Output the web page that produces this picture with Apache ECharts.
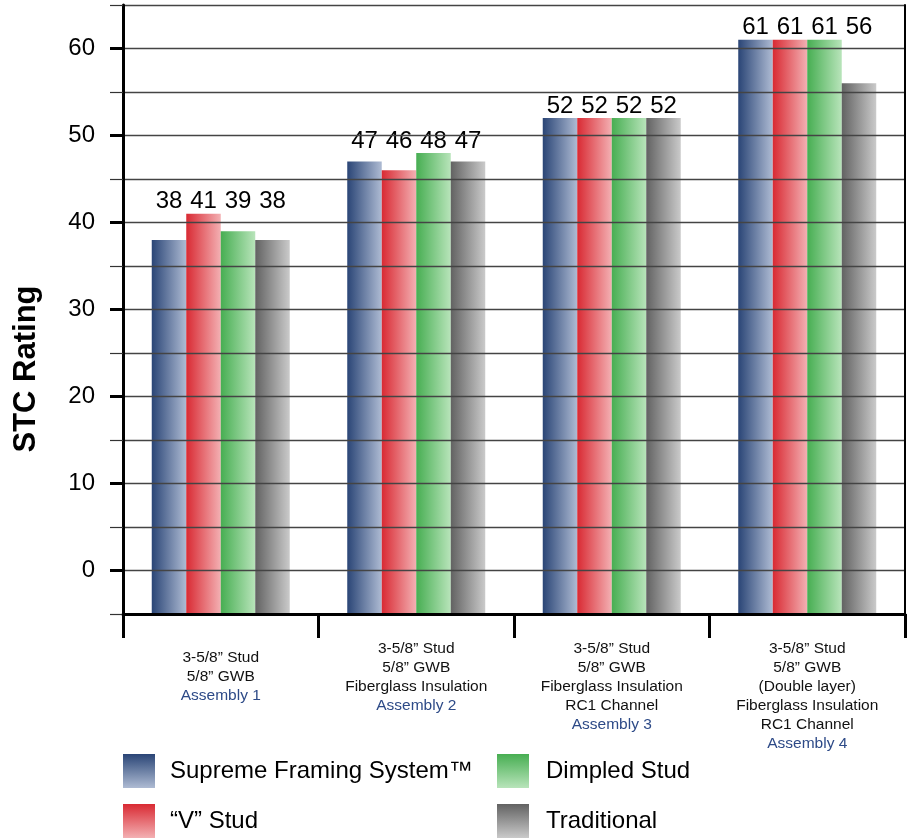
<!DOCTYPE html>
<html>
<head>
<meta charset="utf-8">
<script src="https://cdn.jsdelivr.net/npm/echarts@6/dist/echarts.min.js"></script>
<style>
  html, body { margin: 0; padding: 0; background: #fff; }
  #chart { width: 910px; height: 838px; }
</style>
</head>
<body>
<div id="chart"></div>
<script>
// Assemblies on the category axis, with the wall build-up printed above each name
const categories = ['Assembly 1', 'Assembly 2', 'Assembly 3', 'Assembly 4'];
const assemblyDetails = [
  ['3-5/8” Stud', '5/8” GWB'],
  ['3-5/8” Stud', '5/8” GWB', 'Fiberglass Insulation'],
  ['3-5/8” Stud', '5/8” GWB', 'Fiberglass Insulation', 'RC1 Channel'],
  ['3-5/8” Stud', '5/8” GWB', '(Double layer)', 'Fiberglass Insulation', 'RC1 Channel']
];

// STC ratings per framing system
const seriesNames = ['Supreme Framing System™', '“V” Stud', 'Dimpled Stud', 'Traditional'];
const supremeValues     = [38, 47, 52, 61];
const vStudValues       = [41, 46, 52, 61];
const dimpledValues     = [39, 48, 52, 61];
const traditionalValues = [38, 47, 52, 56];

// Labelled ticks on the STC axis
const yTickLabels = [0, 10, 20, 30, 40, 50, 60];

const FONT = 'Liberation Sans, Arial, Helvetica, sans-serif';

// dark -> light shades for each system
const shades = [
  ['#2a4576', '#aebbd3'],
  ['#d92a33', '#f3b0b3'],
  ['#47ae52', '#b8e4ba'],
  ['#626262', '#cacaca']
];

function hGrad(c) {
  return new echarts.graphic.LinearGradient(0, 0, 1, 0, [
    { offset: 0, color: c[0] }, { offset: 1, color: c[1] }
  ]);
}
function vGrad(c) {
  return new echarts.graphic.LinearGradient(0, 0, 0, 1, [
    { offset: 0, color: c[0] }, { offset: 1, color: c[1] }
  ]);
}

const allValues = [supremeValues, vStudValues, dimpledValues, traditionalValues];
const groupMax = categories.map((_, i) => Math.max(...allValues.map(s => s[i])));

const chart = echarts.init(document.getElementById('chart'));

function buildSeries(pxPerUnit) {
  return allValues.map((vals, si) => ({
    name: seriesNames[si],
    type: 'bar',
    barWidth: 34.5,
    barGap: '0%',
    itemStyle: { color: hGrad(shades[si]) },
    label: {
      show: true,
      position: 'top',
      distance: 0,
      color: '#000',
      fontSize: 24,
      fontFamily: FONT
    },
    // value labels of a group share one baseline above its tallest bar
    data: vals.map((v, i) => ({
      value: v,
      label: { offset: [0, -(groupMax[i] - v) * pxPerUnit] }
    }))
  }));
}

const option = {
  animation: false,
  backgroundColor: '#fff',
  textStyle: { fontFamily: FONT },
  grid: { left: 123, right: 5, top: 5, bottom: 224, containLabel: false },
  graphic: [{
    type: 'text',
    x: 26,
    y: 369,
    rotation: Math.PI / 2,
    style: {
      text: 'STC Rating',
      fontSize: 31,
      fontWeight: 'bold',
      fontFamily: FONT,
      fill: '#000',
      align: 'center',
      verticalAlign: 'middle'
    }
  }],
  legend: [
    {
      left: 123, top: 754, orient: 'vertical',
      itemWidth: 32, itemHeight: 34, itemGap: 16,
      icon: 'rect', selectedMode: false, padding: 0,
      textStyle: { fontSize: 24, color: '#000', fontFamily: FONT, padding: [0, 0, 0, 10] },
      data: [
        { name: seriesNames[0], itemStyle: { color: vGrad(shades[0]) } },
        { name: seriesNames[1], itemStyle: { color: vGrad(shades[1]) } }
      ]
    },
    {
      left: 497, top: 754, orient: 'vertical',
      itemWidth: 32, itemHeight: 34, itemGap: 16,
      icon: 'rect', selectedMode: false, padding: 0,
      textStyle: { fontSize: 24, color: '#000', fontFamily: FONT, padding: [0, 0, 0, 12] },
      data: [
        { name: seriesNames[2], itemStyle: { color: vGrad(shades[2]) } },
        { name: seriesNames[3], itemStyle: { color: vGrad(shades[3]) } }
      ]
    }
  ],
  xAxis: {
    type: 'category',
    data: categories,
    boundaryGap: true,
    z: 10,
    axisLine: { show: true, onZero: false, lineStyle: { color: '#000', width: 3 } },
    axisTick: { show: true, length: 24, lineStyle: { color: '#000', width: 3 } },
    splitLine: { show: false },
    axisLabel: {
      interval: 0,
      margin: 25,
      color: '#000',
      formatter: (value, index) => {
        const lines = assemblyDetails[index].map(l => '{d|' + l + '}');
        lines.push('{a|' + value + '}');
        return (index === 0 ? '{sp| }\n' : '') + lines.join('\n');
      },
      rich: {
        sp: { fontSize: 1, lineHeight: 9 },
        d: { fontSize: 15.5, lineHeight: 19, color: '#111', fontFamily: FONT },
        a: { fontSize: 15.5, lineHeight: 19, color: '#2d4a87', fontFamily: FONT }
      }
    }
  },
  yAxis: [
    {
      type: 'value',
      min: -5, max: 65, interval: 5,
      startValue: -5,
      z: 10,
      axisLine: { show: true, lineStyle: { color: '#000', width: 3 } },
      axisTick: { show: true, length: 13, lineStyle: { color: '#333', width: 1.2 } },
      splitLine: { show: true, lineStyle: { color: '#444', width: 1.3 } },
      axisLabel: {
        customValues: yTickLabels,
        margin: 28,
        fontSize: 24,
        color: '#000',
        fontFamily: FONT
      }
    },
    {
      // heavier ticks on the labelled values
      type: 'value',
      min: -5, max: 65, interval: 5,
      position: 'left',
      z: 11,
      axisLine: { show: false },
      axisTick: { show: true, customValues: yTickLabels, length: 13, lineStyle: { color: '#000', width: 3 } },
      axisLabel: { show: false },
      splitLine: { show: false }
    },
    {
      // closing frame on the right
      type: 'value',
      min: -5, max: 65, interval: 5,
      position: 'right',
      z: 11,
      axisLine: { show: true, lineStyle: { color: '#000', width: 2 } },
      axisTick: { show: false },
      axisLabel: { show: false },
      splitLine: { show: false }
    }
  ],
  series: buildSeries(0)
};

chart.setOption(option);

// pixel size of one STC point, from the value axis itself
const pxPerUnit = chart.convertToPixel({ yAxisIndex: 0 }, 0) - chart.convertToPixel({ yAxisIndex: 0 }, 1);
chart.setOption({ series: buildSeries(pxPerUnit) });
</script>
</body>
</html>
